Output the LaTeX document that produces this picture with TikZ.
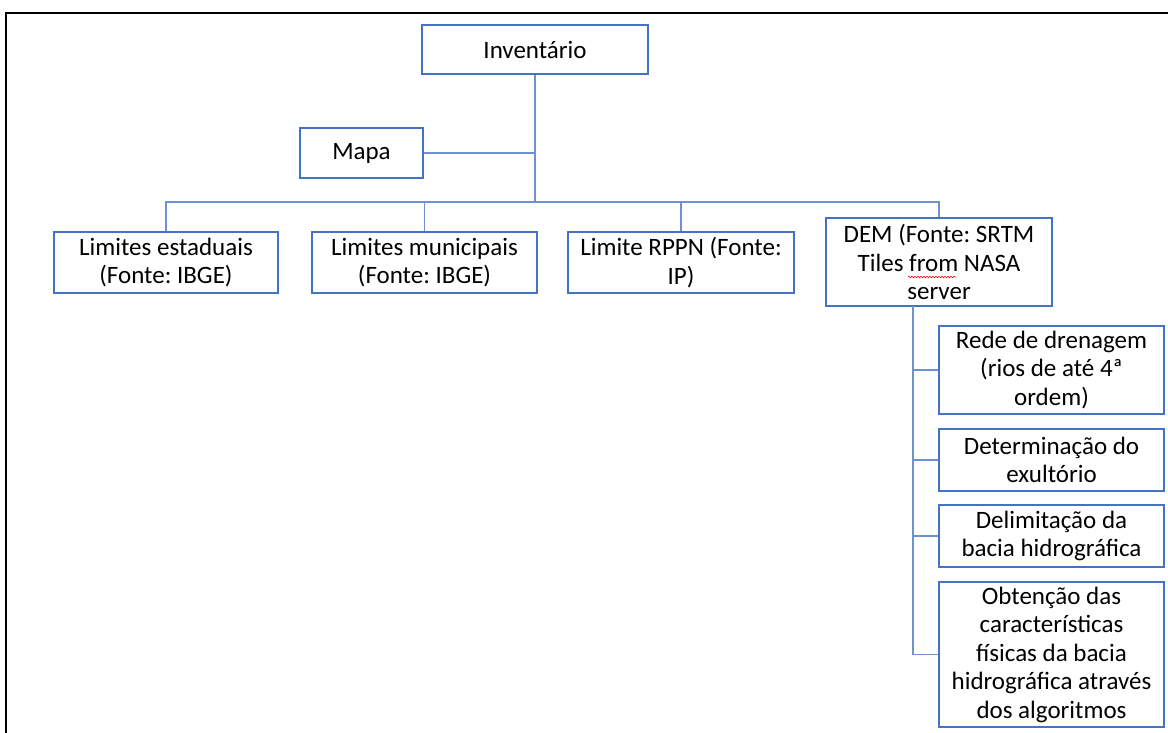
\documentclass[tikz,border=0pt]{standalone}
\usepackage{fontspec}
\setmainfont{Carlito}
\frenchspacing
\usetikzlibrary{decorations.pathmorphing}
\definecolor{boxblue}{RGB}{68,114,196}
\definecolor{linkblue}{RGB}{110,145,212}
\begin{document}
\begin{tikzpicture}[x=1pt,y=-1pt,
  box/.style={draw=boxblue, line width=1.1pt, fill=white, align=center, inner sep=0pt,
    font=\fontsize{25}{28.5}\selectfont},
  link/.style={draw=linkblue, line width=1.4pt}]
\useasboundingbox (0,0) rectangle (1168,733);
\draw[line width=2pt] (6,733) -- (6,13) -- (1168,13);
% nodes
\node[box, minimum width=226pt, minimum height=49pt] (inv) at (535,49.5) {Inventário};
\node[box, minimum width=123pt, minimum height=50pt] (mapa) at (361.5,153) {Mapa};
\node[box, minimum width=224pt, minimum height=61pt] (le) at (166,262.5) {Limites estaduais\\(Fonte: IBGE)};
\node[box, minimum width=225pt, minimum height=61pt] (lm) at (424.5,262.5) {Limites municipais\\(Fonte: IBGE)};
\node[box, minimum width=226pt, minimum height=61pt] (rppn) at (681,262.5) {Limite RPPN (Fonte:\\IP)};
\node[box, minimum width=226pt, minimum height=88pt] (dem) at (939,262) {DEM (Fonte: SRTM\\Tiles from NASA\\server};
\node[box, minimum width=225pt, minimum height=88pt] (rede) at (1051.5,370) {Rede de drenagem\\(rios de até 4ª\\ordem)};
\node[box, minimum width=225pt, minimum height=62pt] (det) at (1051.5,460) {Determinação do\\exultório};
\node[box, minimum width=225pt, minimum height=62pt] (del) at (1051.5,536) {Delimitação da\\bacia hidrográfica};
\node[box, minimum width=225pt, minimum height=145pt] (obt) at (1051.5,654.5) {Obtenção das\\características\\físicas da bacia\\hidrográfica através\\dos algoritmos};
% spell-check squiggle
\draw[red, line width=0.6pt, decorate, decoration={snake, amplitude=0.8pt, segment length=3pt}] (908,277) -- (956,277);
% connectors
\coordinate (bus) at (535,202);
\coordinate (dtr) at (913,306);
\draw[link] (inv.south) -- (bus);
\draw[link] (mapa.east) -- (mapa.east -| inv.south);
\draw[link] (le.north) |- (dem.north |- bus) -- (dem.north);
\draw[link] (lm.north) -- (lm.north |- bus);
\draw[link] (rppn.north) -- (rppn.north |- bus);
\draw[link] (dtr) |- (obt.west);
\draw[link] (rede.west) -- (rede.west -| dtr);
\draw[link] (det.west) -- (det.west -| dtr);
\draw[link] (del.west) -- (del.west -| dtr);
\end{tikzpicture}
\end{document}
